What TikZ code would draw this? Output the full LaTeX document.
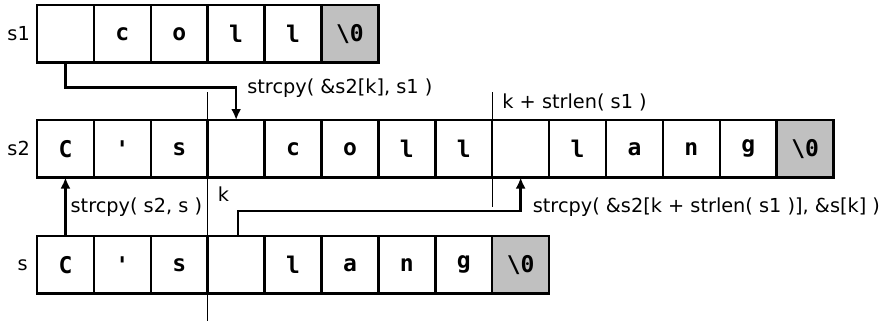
\documentclass[tikz,border=0pt]{standalone}
\usepackage{fontspec}
\setmainfont{DejaVu Sans}
\newfontfamily\cellfont{DejaVu Sans Mono}
\usetikzlibrary{arrows.meta}
\definecolor{zgray}{RGB}{192,192,192}
\begin{document}
\begin{tikzpicture}[x=1pt,y=-1pt,
  cell/.style={draw,line width=2.5pt,minimum width=56.9pt,minimum height=57.5pt,inner sep=0pt,outer sep=0pt,anchor=north west,font=\cellfont\bfseries\fontsize{23}{23}\selectfont},
  nul/.style={cell,fill=zgray},
  lbl/.style={inner sep=0pt,font=\fontsize{19.3}{19.3}\selectfont},
  conn/.style={line width=2.5pt,-{Latex[length=11pt,width=10pt]}},
  tick/.style={line width=1.2pt}]
\useasboundingbox (0,0) rectangle (883,321);
% s1 row
\foreach \t [count=\i from 0] in {{},c,o,l,l}
  \node[cell] (a\i) at (37+\i*56.9,5) {\t};
\node[nul] (a5) at (37+5*56.9,5) {\textbackslash0};
% s2 row
\foreach \t [count=\i from 0] in {C,{\char39},s,{},c,o,l,l,{},l,a,n,g}
  \node[cell] (b\i) at (37+\i*56.9,120) {\t};
\node[nul] (b13) at (37+13*56.9,120) {\textbackslash0};
% s row
\foreach \t [count=\i from 0] in {C,{\char39},s,{},l,a,n,g}
  \node[cell] (c\i) at (37+\i*56.9,236) {\t};
\node[nul] (c8) at (37+8*56.9,236) {\textbackslash0};
% row names
\node[lbl,anchor=east] (n1) at ([xshift=-7pt]a0.west) {s1};
\node[lbl,anchor=east] (n2) at ([xshift=-7pt]b0.west) {s2};
\node[lbl,anchor=east] (n3) at ([xshift=-9pt]c0.west) {s};
% index lines
\draw[tick] ([yshift=28pt]b3.north west) -- ([yshift=-28pt]c3.south west);
\draw[tick] ([yshift=28pt]b8.north west) -- ([yshift=-29pt]b8.south west);
\node[lbl,anchor=west] (lk) at ([xshift=10pt,yshift=-17pt]b3.south west) {k};
\node[lbl,anchor=west] (lks) at ([xshift=10pt,yshift=18pt]b8.north west) {k + strlen( s1 )};
% connectors
\draw[conn] (a0.south) -- ++(0,25) -| (b3.north);
\draw[conn] (c0.north) -- (b0.south);
\draw[conn] ([xshift=2pt]c3.north) -- ++(0,-25) -| (b8.south);
\node[lbl,anchor=west] (l1) at ([xshift=11pt,yshift=32pt]b3.north) {strcpy( \&s2[k], s1 )};
\node[lbl,anchor=west] (l2) at ([xshift=5pt,yshift=-30pt]b0.south) {strcpy( s2, s )};
\node[lbl,anchor=west] (l3) at ([xshift=12pt,yshift=-30pt]b8.south) {strcpy( \&s2[k + strlen( s1 )], \&s[k] )};
\end{tikzpicture}
\end{document}
